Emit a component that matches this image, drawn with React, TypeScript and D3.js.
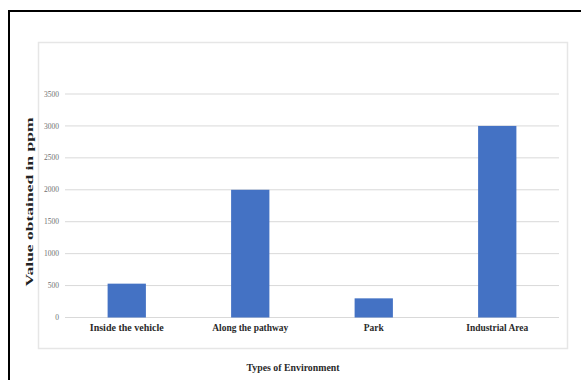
import React from "react";
import * as d3 from "d3";

const categories = ["Inside the vehicle", "Along the pathway", "Park", "Industrial Area"];
const values = [530, 2000, 300, 3000];
const yTicks = [0, 500, 1000, 1500, 2000, 2500, 3000, 3500];
const yTitle = "Value obtained in ppm";
const xTitle = "Types of Environment";

const W = 581;
const H = 380;

export default function App() {
  const x = d3.scaleBand<string>().domain(categories).range([65, 559]).paddingInner(0.69).paddingOuter(0.345);
  const y = d3.scaleLinear().domain([0, 3500]).range([317.5, 94]);
  const labelLens = [74, 76, 20, 62];
  return (
    <svg width={W} height={H} style={{ position: "absolute", left: 0, top: 0, display: "block" }}>
      <rect x={0} y={0} width={W} height={H} fill="#fff" />
      <rect x={9} y={11} width={W + 20} height={H + 20} fill="none" stroke="#000" strokeWidth={2} />
      <rect x={38.5} y={42.5} width={529} height={306} fill="none" stroke="#e6e6e6" strokeWidth={1.5} />
      {yTicks.map((t) => (
        <g key={t}>
          <line x1={65} x2={559} y1={y(t)} y2={y(t)} stroke="#d9d9d9" strokeWidth={1} />
          <text x={59} y={y(t)} dy="0.35em" textAnchor="end" fontFamily="Liberation Serif" fontSize={7.5} fill="#6f6f6f">
            {t}
          </text>
        </g>
      ))}
      {categories.map((c, i) => (
        <rect key={c} x={x(c)} y={y(values[i])} width={x.bandwidth()} height={y(0) - y(values[i])} fill="#4472C4" />
      ))}
      {categories.map((c, i) => (
        <text
          key={c}
          x={(x(c) as number) + x.bandwidth() / 2}
          y={331}
          textAnchor="middle"
          fontFamily="Liberation Serif"
          fontWeight="bold"
          fontSize={11}
          fill="#2a2a2a"
          textLength={labelLens[i]}
          lengthAdjust="spacingAndGlyphs"
        >
          {c}
        </text>
      ))}
      <text
        transform="translate(33,202) rotate(-90)"
        textAnchor="middle"
        fontFamily="Liberation Serif"
        fontWeight="bold"
        fontSize={11}
        fill="#222"
        textLength={169}
        lengthAdjust="spacingAndGlyphs"
      >
        {yTitle}
      </text>
      <text
        x={293}
        y={371}
        textAnchor="middle"
        fontFamily="Liberation Serif"
        fontWeight="bold"
        fontSize={11}
        fill="#2a2a2a"
        textLength={93}
        lengthAdjust="spacingAndGlyphs"
      >
        {xTitle}
      </text>
    </svg>
  );
}
